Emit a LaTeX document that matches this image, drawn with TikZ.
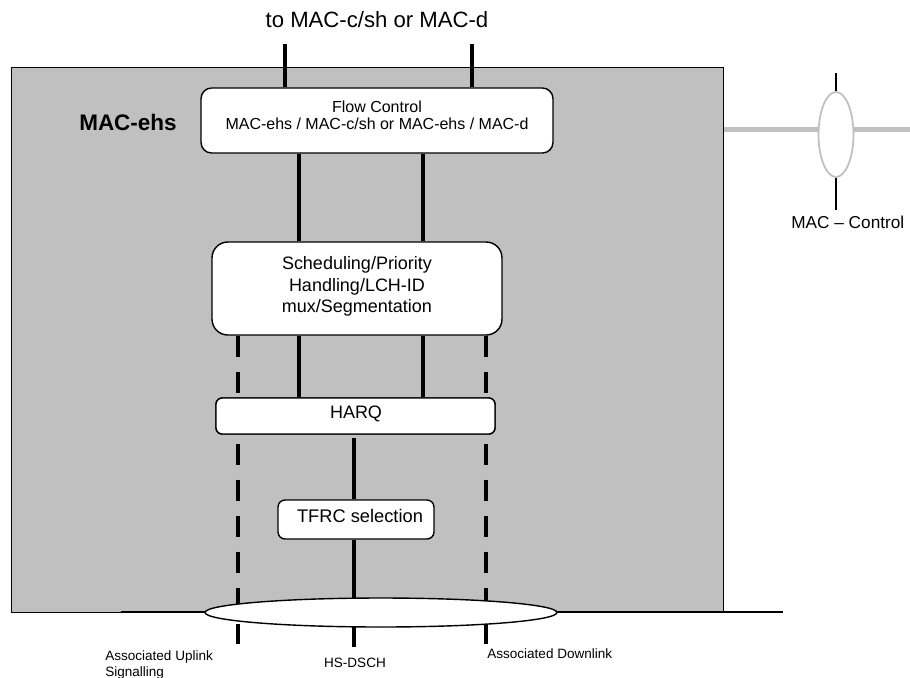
\documentclass[tikz,border=0pt]{standalone}
\usepackage{fontspec}
\setmainfont{Liberation Sans}
\usetikzlibrary{shapes.geometric}
\definecolor{boxgray}{RGB}{192,192,192}
\tikzset{
  box/.style={draw=black, line width=0.8pt, fill=white, inner sep=0pt},
  txt/.style={inner sep=0pt, align=center},
  bar/.style={line width=2.5pt},
  dashbar/.style={line width=2.6pt, dash pattern=on 11.95pt off 8.54pt},
  ctrlline/.style={draw=boxgray, line width=2.85pt},
}
\begin{document}
\begin{tikzpicture}[x=0.02cm,y=-0.02cm]
\useasboundingbox (0,0) rectangle (910,677);

% main grey block
\node[draw=black, fill=boxgray, line width=0.6pt, inner sep=0pt, minimum width=14.24cm,
      minimum height=10.9cm, anchor=north west] (mac) at (11,67) {};

% MAC control
\coordinate (ctrlE) at (910,129);
\draw[ctrlline] (mac.east |- ctrlE) -- (ctrlE);
\node[ellipse, draw=boxgray, line width=1.0pt, fill=white, inner sep=0pt,
      minimum width=0.7cm, minimum height=1.7cm] (ce) at (836,134.5) {};
\coordinate (ct) at (836,73);
\coordinate (cb) at (836,210);
\draw[line width=0.6pt] (ct) -- (ce.north);
\draw[line width=0.6pt] (ce.south) -- (cb);
\node[txt, anchor=west, font=\fontsize{9.8pt}{11pt}\selectfont] (ctrltext) at (791,222) {MAC – Control};

% bottom horizontal line
\coordinate (hl) at (121,612);
\coordinate (hr) at (783,612);
\draw[line width=1.1pt] (hl) -- (hr);

% boxes
\node[box, rounded corners=6pt, minimum width=7.04cm, minimum height=1.30cm] (fc) at (377,120.5) {};
\node[box, rounded corners=9pt, minimum width=5.80cm, minimum height=1.86cm] (sc) at (357,288.5) {};
\node[box, rounded corners=3.5pt, minimum width=5.58cm, minimum height=0.72cm] (hq) at (355.5,416) {};
\node[box, rounded corners=4pt, minimum width=3.12cm, minimum height=0.78cm] (tf) at (356,519.5) {};

% connectors
\coordinate (top1) at (285,44);
\coordinate (top2) at (472,44);
\draw[bar] (top1) -- (top1 |- fc.north);
\draw[bar] (top2) -- (top2 |- fc.north);
\coordinate (v1) at (299,0);
\coordinate (v2) at (423,0);
\draw[bar] (v1 |- fc.south) -- (v1 |- sc.north);
\draw[bar] (v2 |- fc.south) -- (v2 |- sc.north);
\draw[bar] (v1 |- sc.south) -- (v1 |- hq.north);
\draw[bar] (v2 |- sc.south) -- (v2 |- hq.north);
\coordinate (cstart) at (354,438);
\coordinate (cend) at (354,647);
\draw[bar] (cstart) -- (cstart |- tf.north);
\draw[bar] (cend |- tf.south) -- (cend);
\coordinate (dl) at (238,644);
\coordinate (dr) at (486,644);
\draw[dashbar] (dl |- sc.south) -- (dl);
\draw[dashbar] (dr |- sc.south) -- (dr);

% redraw HARQ box on top of dashed lines
\node[box, rounded corners=3.5pt, minimum width=5.58cm, minimum height=0.72cm] (hq2) at (hq.center) {};

% bottom ellipse
\node[ellipse, draw=black, line width=0.8pt, fill=white, inner sep=0pt,
      minimum width=7.04cm, minimum height=0.58cm] (hs) at (381,612.5) {};

% texts
\node[txt, font=\fontsize{12.6pt}{14pt}\selectfont] (title) at (377,20) {to MAC-c/sh or MAC-d};
\node[txt, font=\bfseries\fontsize{12.8pt}{14pt}\selectfont] (macehs) at (128,122) {MAC-ehs};
\node[txt, font=\fontsize{9.1pt}{9.7pt}\selectfont] (fctext) at (377,115)
  {Flow Control\\MAC-ehs / MAC-c/sh or MAC-ehs / MAC-d};
\node[txt, font=\fontsize{10.24pt}{12.2pt}\selectfont] (sctext) at (357,286.5)
  {Scheduling/Priority\\Handling/LCH-ID\\mux/Segmentation};
\node[txt, font=\fontsize{10.24pt}{12pt}\selectfont] (hqtext) at (356,413.5) {HARQ};
\node[txt, font=\fontsize{10.4pt}{12pt}\selectfont] (tftext) at (360,516) {TFRC selection};
\node[txt, align=left, anchor=north west, font=\fontsize{7.7pt}{9.1pt}\selectfont] (ul) at (105,650)
  {Associated Uplink\\Signalling};
\node[txt, font=\fontsize{7.7pt}{9pt}\selectfont] (hsd) at (355,663) {HS-DSCH};
\node[txt, anchor=west, font=\fontsize{7.7pt}{9pt}\selectfont] (dlk) at (487,653.5) {Associated Downlink};
\end{tikzpicture}
\end{document}
